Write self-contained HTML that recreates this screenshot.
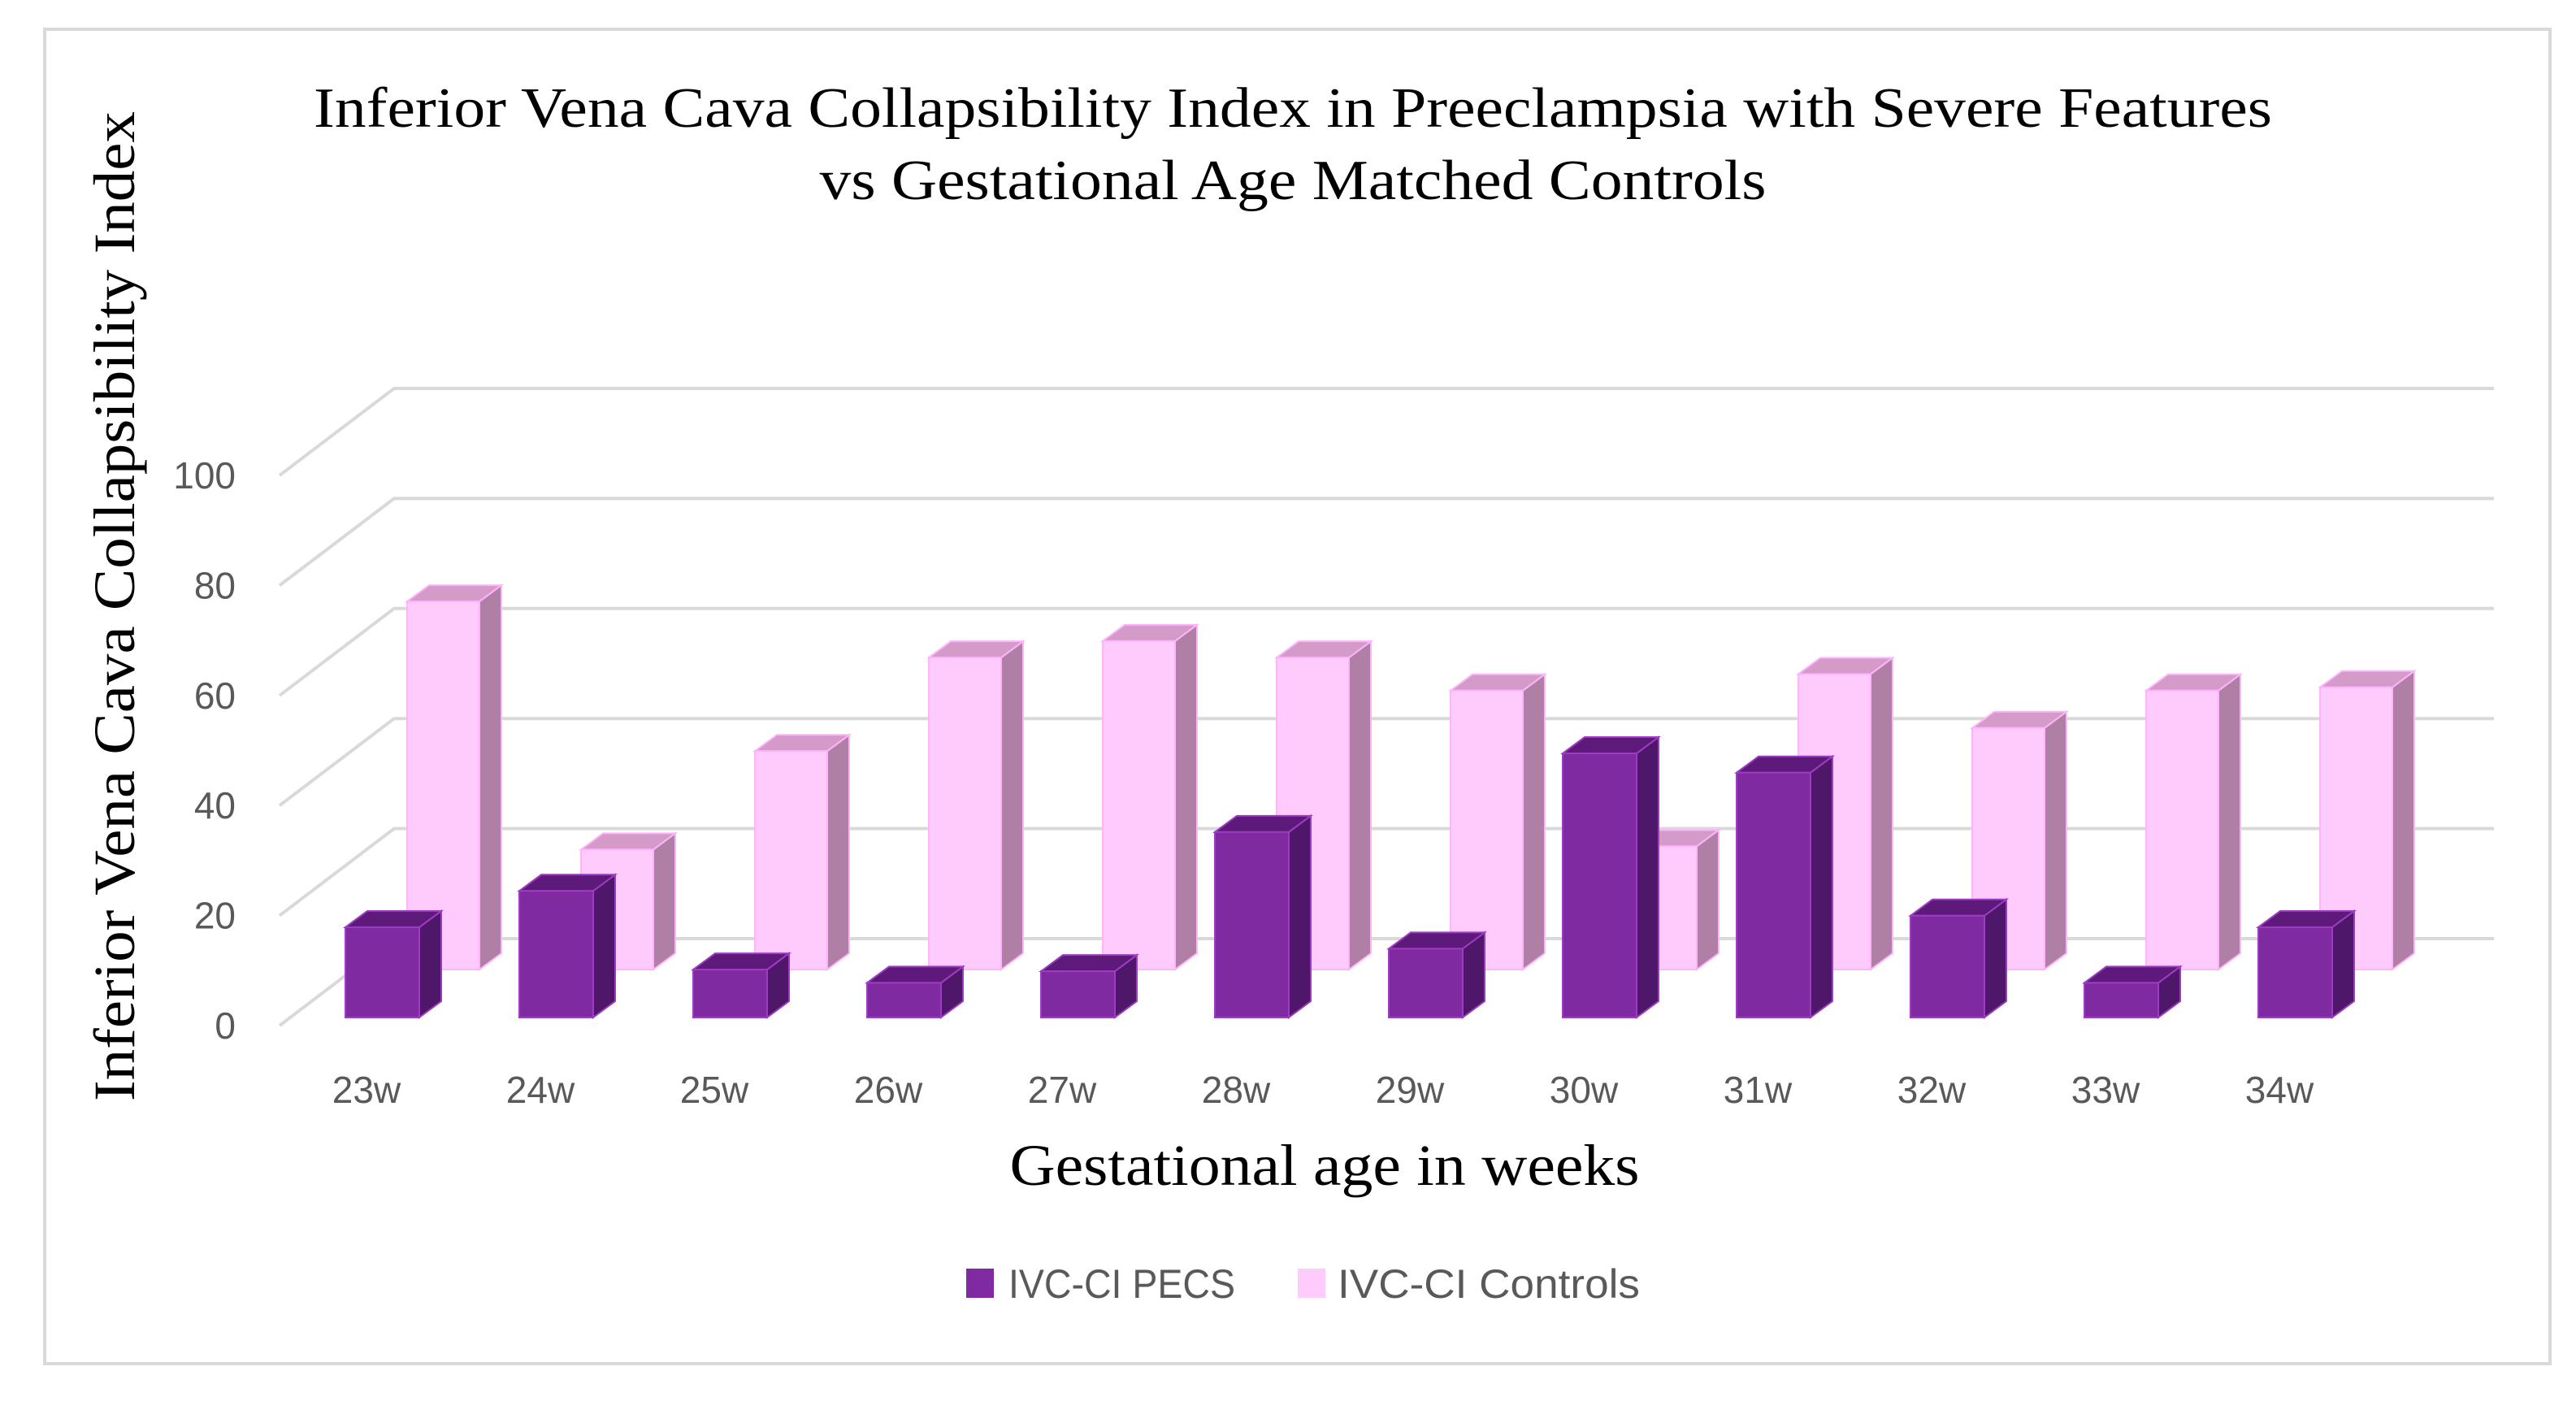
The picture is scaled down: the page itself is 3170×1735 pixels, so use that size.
<!DOCTYPE html>
<html><head><meta charset="utf-8"><style>
html,body{margin:0;padding:0;background:#fff;}
svg{display:block;}
</style></head><body>
<svg id="chart" width="3170" height="1735" viewBox="0 0 3170 1735" xmlns="http://www.w3.org/2000/svg">
<rect x="55" y="36" width="3083" height="1642" fill="#fff" stroke="#d9d9d9" stroke-width="4"/>
<text x="1591" y="156" text-anchor="middle" font-family="Liberation Serif, serif" font-size="70" fill="#000" textLength="2410" lengthAdjust="spacingAndGlyphs">Inferior Vena Cava Collapsibility  Index in Preeclampsia with Severe Features</text>
<text x="1591" y="245" text-anchor="middle" font-family="Liberation Serif, serif" font-size="70" fill="#000" textLength="1165" lengthAdjust="spacingAndGlyphs">vs Gestational Age Matched Controls</text>
<text transform="translate(165,746) rotate(-90)" text-anchor="middle" font-family="Liberation Serif, serif" font-size="72" fill="#000" textLength="1218" lengthAdjust="spacingAndGlyphs">Inferior Vena Cava Collapsibility  Index</text>
<text x="1630" y="1458" text-anchor="middle" font-family="Liberation Serif, serif" font-size="72" fill="#000" textLength="775" lengthAdjust="spacingAndGlyphs">Gestational age in weeks</text>
<g>
<rect x="1189" y="1561" width="34" height="36" fill="#7f2aa0"/>
<text x="1241" y="1597" font-family="Liberation Sans, sans-serif" font-size="50" fill="#595959" textLength="279" lengthAdjust="spacingAndGlyphs">IVC-CI PECS</text>
<rect x="1597" y="1561" width="34" height="36" fill="#fecbfc"/>
<text x="1646" y="1597" font-family="Liberation Sans, sans-serif" font-size="50" fill="#595959" textLength="372" lengthAdjust="spacingAndGlyphs">IVC-CI Controls</text>
</g>
<g id="grid"></g><g id="ticks"></g><g id="bars"></g>
</svg>
<script>
const categories = ["23w","24w","25w","26w","27w","28w","29w","30w","31w","32w","33w","34w"];
const pecsValues = [16.4,23,8.7,6.3,8.4,33.7,12.5,48,44.5,18.5,6.3,16.4];
const controlValues = [66.9,21.8,39.7,56.7,59.7,56.7,50.7,22.4,53.7,43.9,50.7,51.3];
const yTicks = [0,20,40,60,80,100];

const NS="http://www.w3.org/2000/svg";
const PX_PER_UNIT=6.77;
const frontBase=1262, backBase=1155, frontX=344, backX=485, rightX=3069;
function yFront(v){return frontBase-v*PX_PER_UNIT;}
function yBack(v){return backBase-v*PX_PER_UNIT;}
function xCat(i){return 451+i*214;}
function yScale(v,base){return base-v*PX_PER_UNIT;}
function mk(tag,attrs,parent){const e=document.createElementNS(NS,tag);for(const k in attrs)e.setAttribute(k,attrs[k]);parent.appendChild(e);return e;}

const grid=document.getElementById('grid'), ticks=document.getElementById('ticks'), bars=document.getElementById('bars');
yTicks.forEach(t=>{
  const p=mk('path',{d:`M${frontX},${yFront(t)} L${backX},${yBack(t)} L${rightX},${yBack(t)}`,fill:'none',stroke:'#d9d9d9','stroke-width':4},grid);
  
  
  const tx=mk('text',{x:290,y:yFront(t)+16,'text-anchor':'end','font-family':'Liberation Sans, sans-serif','font-size':46,fill:'#595959'},ticks);
  tx.textContent=t;
  
  
});
categories.forEach((c,i)=>{
  const tx=mk('text',{x:xCat(i),y:1357,'text-anchor':'middle','font-family':'Liberation Sans, sans-serif','font-size':46,fill:'#595959'},ticks);
  tx.textContent=c;
  
  
});
function bar3d(x,base,v,w,front,top,side,stroke,name){
  const g=mk('g',{},bars);
  
  
  const yt=yScale(v,base), dx=27, dy=-20;
  mk('polygon',{points:`${x+w},${base} ${x+w+dx},${base+dy} ${x+w+dx},${yt+dy} ${x+w},${yt}`,fill:side,stroke:stroke,'stroke-width':2},g);
  mk('polygon',{points:`${x},${yt} ${x+dx},${yt+dy} ${x+w+dx},${yt+dy} ${x+w},${yt}`,fill:top,stroke:stroke,'stroke-width':2},g);
  mk('rect',{x:x,y:yt,width:w,height:base-yt,fill:front,stroke:stroke,'stroke-width':2},g);
}
categories.forEach((c,i)=>{
  bar3d(xCat(i)+50,1193,controlValues[i],89,'#fecbfc','#d49ac8','#b07fa5','#ffb3fb','bar-controls-'+c);
});
categories.forEach((c,i)=>{
  bar3d(xCat(i)-26,1252,pecsValues[i],91,'#7f2aa0','#5e1a7a','#4f1769','#9c3cc0','bar-pecs-'+c);
});
</script>
</body></html>
